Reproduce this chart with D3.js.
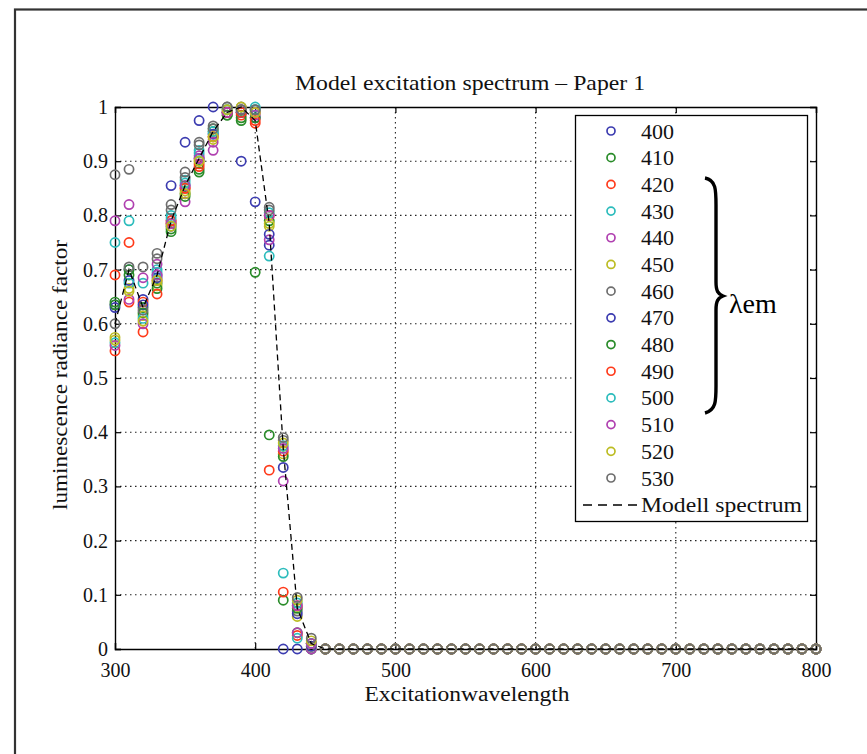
<!DOCTYPE html>
<html><head><meta charset="utf-8">
<script src="https://cdn.jsdelivr.net/npm/d3@7"></script>
<style>body{margin:0;background:#fff}</style>
</head><body>
<script>
// ---- data ----
const wavelengths = [300,310,320,330,340,350,360,370,380,390,400,410,420,430,440,450,460,470,480,490,500,510,520,530,540,550,560,570,580,590,600,610,620,630,640,650,660,670,680,690,700,710,720,730,740,750,760,770,780,790,800];
const emissionLabels = ["400","410","420","430","440","450","460","470","480","490","500","510","520","530"];
const s400 = [0.635,0.70,0.645,0.69,0.855,0.935,0.975,1.0,0.99,0.90,0.825,0.745,0,0,0, 0,0,0,0,0,0,0,0,0,0,0,0,0,0,0,0,0,0,0,0,0,0,0,0,0,0,0,0,0,0,0,0,0,0,0,0];
const s410 = [0.64,0.70,0.63,0.675,0.775,0.84,0.88,0.955,0.985,0.975,0.695,0.395,0.09,0.03,0, 0,0,0,0,0,0,0,0,0,0,0,0,0,0,0,0,0,0,0,0,0,0,0,0,0,0,0,0,0,0,0,0,0,0,0,0];
const s420 = [0.69,0.75,0.64,0.68,0.785,0.85,0.895,0.945,0.99,0.985,0.97,0.33,0.105,0.025,0, 0,0,0,0,0,0,0,0,0,0,0,0,0,0,0,0,0,0,0,0,0,0,0,0,0,0,0,0,0,0,0,0,0,0,0,0];
const s430 = [0.75,0.79,0.675,0.70,0.80,0.865,0.92,0.95,0.995,0.99,1.0,0.725,0.14,0.02,0, 0,0,0,0,0,0,0,0,0,0,0,0,0,0,0,0,0,0,0,0,0,0,0,0,0,0,0,0,0,0,0,0,0,0,0,0];
const s440 = [0.79,0.82,0.685,0.71,0.79,0.825,0.91,0.92,0.99,0.99,0.985,0.755,0.31,0.03,0, 0,0,0,0,0,0,0,0,0,0,0,0,0,0,0,0,0,0,0,0,0,0,0,0,0,0,0,0,0,0,0,0,0,0,0,0];
const s450 = [0.575,0.665,0.615,0.67,0.785,0.845,0.90,0.94,0.995,0.995,0.99,0.78,0.36,0.06,0.005, 0,0,0,0,0,0,0,0,0,0,0,0,0,0,0,0,0,0,0,0,0,0,0,0,0,0,0,0,0,0,0,0,0,0,0,0];
const s460 = [0.875,0.885,0.705,0.73,0.82,0.88,0.935,0.965,1.0,1.0,0.995,0.815,0.385,0.07,0.01, 0,0,0,0,0,0,0,0,0,0,0,0,0,0,0,0,0,0,0,0,0,0,0,0,0,0,0,0,0,0,0,0,0,0,0,0];
const s470 = [0.63,0.68,0.635,0.685,0.78,0.855,0.905,0.95,0.99,0.99,0.98,0.765,0.335,0.065,0.005, 0,0,0,0,0,0,0,0,0,0,0,0,0,0,0,0,0,0,0,0,0,0,0,0,0,0,0,0,0,0,0,0,0,0,0,0];
const s480 = [0.635,0.69,0.62,0.665,0.77,0.835,0.885,0.96,0.985,0.98,0.98,0.79,0.355,0.075,0.01, 0,0,0,0,0,0,0,0,0,0,0,0,0,0,0,0,0,0,0,0,0,0,0,0,0,0,0,0,0,0,0,0,0,0,0,0];
const s490 = [0.55,0.64,0.585,0.655,0.79,0.85,0.89,0.945,0.99,0.99,0.975,0.80,0.365,0.08,0.01, 0,0,0,0,0,0,0,0,0,0,0,0,0,0,0,0,0,0,0,0,0,0,0,0,0,0,0,0,0,0,0,0,0,0,0,0];
const s500 = [0.565,0.675,0.61,0.695,0.795,0.86,0.915,0.955,0.995,0.995,0.995,0.805,0.375,0.085,0.01, 0,0,0,0,0,0,0,0,0,0,0,0,0,0,0,0,0,0,0,0,0,0,0,0,0,0,0,0,0,0,0,0,0,0,0,0];
const s510 = [0.56,0.645,0.60,0.69,0.785,0.855,0.905,0.935,0.99,0.995,0.99,0.80,0.37,0.08,0.01, 0,0,0,0,0,0,0,0,0,0,0,0,0,0,0,0,0,0,0,0,0,0,0,0,0,0,0,0,0,0,0,0,0,0,0,0];
const s520 = [0.57,0.66,0.605,0.68,0.78,0.84,0.90,0.945,0.995,1.0,0.99,0.785,0.38,0.09,0.015, 0,0,0,0,0,0,0,0,0,0,0,0,0,0,0,0,0,0,0,0,0,0,0,0,0,0,0,0,0,0,0,0,0,0,0,0];
const s530 = [0.60,0.705,0.625,0.72,0.81,0.87,0.93,0.96,1.0,0.995,0.995,0.81,0.39,0.095,0.02, 0,0,0,0,0,0,0,0,0,0,0,0,0,0,0,0,0,0,0,0,0,0,0,0,0,0,0,0,0,0,0,0,0,0,0,0];
const modelSpectrum = [0.60,0.70,0.63,0.69,0.79,0.855,0.905,0.955,0.99,1.0,0.975,0.785,0.37,0.075,0.01, 0,0,0,0,0,0,0,0,0,0,0,0,0,0,0,0,0,0,0,0,0,0,0,0,0,0,0,0,0,0,0,0,0,0,0,0];
const xTickValues = [300,400,500,600,700,800];
const yTickValues = [0,0.1,0.2,0.3,0.4,0.5,0.6,0.7,0.8,0.9,1];
const yTickLabels = ["0","0.1","0.2","0.3","0.4","0.5","0.6","0.7","0.8","0.9","1"];
const titleText = "Model excitation spectrum \u2013 Paper 1";
const xLabelText = "Excitationwavelength";
const yLabelText = "luminescence radiance factor";
const modelLabel = "Modell spectrum";

const seriesValues = [s400,s410,s420,s430,s440,s450,s460,s470,s480,s490,s500,s510,s520,s530];
const palette = ["#3c3cb0","#2a8c2a","#ff3a1a","#2cbcbc","#b040b0","#bcbc22","#6e6e6e"];

// ---- layout ----
const W = 867, H = 754;
const L = 115, R = 816, T = 107, B = 649;
const FONT = "'Liberation Serif', 'Times New Roman', serif";

const svg = d3.select("body").append("svg").attr("width", W).attr("height", H)
  .style("font-family", FONT);

svg.append("rect").attr("x", 15).attr("y", 9.5).attr("width", 900).attr("height", 800)
  .attr("fill", "none").attr("stroke", "#333").attr("stroke-width", 2.2);

const x = d3.scaleLinear().domain([300, 800]).range([L, R]);
const y = d3.scaleLinear().domain([0, 1]).range([B, T]);

// grid
const grid = svg.append("g").attr("stroke", "#222").attr("stroke-width", 1.1).attr("stroke-dasharray", "1.5,3.5");
grid.selectAll("line.gx").data(xTickValues.filter(v => v > 300 && v < 800)).join("line")
  .attr("x1", d => x(d)).attr("x2", d => x(d)).attr("y1", T).attr("y2", B);
grid.selectAll("line.gy").data(yTickValues.filter(v => v > 0 && v < 1)).join("line")
  .attr("x1", L).attr("x2", R).attr("y1", d => y(d)).attr("y2", d => y(d));

// axes (inward ticks on all sides)
const tickLen = 6;
const axB = svg.append("g").attr("transform", `translate(0,${B})`)
  .call(d3.axisBottom(x).tickValues(xTickValues).tickSize(-tickLen).tickPadding(14).tickFormat(d3.format("d")));
const axT = svg.append("g").attr("transform", `translate(0,${T})`)
  .call(d3.axisTop(x).tickValues(xTickValues).tickSize(-tickLen).tickFormat(""));
const axL = svg.append("g").attr("transform", `translate(${L},0)`)
  .call(d3.axisLeft(y).tickValues(yTickValues).tickSize(-tickLen).tickPadding(7).tickFormat((d, i) => yTickLabels[i]));
const axR = svg.append("g").attr("transform", `translate(${R},0)`)
  .call(d3.axisRight(y).tickValues(yTickValues).tickSize(-tickLen).tickFormat(""));
[axB, axT, axL, axR].forEach(a => {
  a.select(".domain").attr("stroke", "#000").attr("stroke-width", 1.4);
  a.selectAll(".tick line").attr("stroke", "#000").attr("stroke-width", 1.2);
  a.selectAll("text").attr("font-family", FONT).attr("font-size", 20).attr("fill", "#111");
});

// points
seriesValues.forEach((vals, si) => {
  svg.append("g").selectAll("circle").data(vals).join("circle")
    .attr("cx", (d, i) => x(wavelengths[i])).attr("cy", d => y(d))
    .attr("r", 4.6).attr("fill", "none")
    .attr("stroke", palette[si % palette.length]).attr("stroke-width", 1.7);
});

// model line
svg.append("path").datum(modelSpectrum)
  .attr("d", d3.line().x((d, i) => x(wavelengths[i])).y(d => y(d)))
  .attr("fill", "none").attr("stroke", "#000").attr("stroke-width", 1.3).attr("stroke-dasharray", "6,4");

// titles
svg.append("text").attr("x", 470).attr("y", 90).attr("text-anchor", "middle")
  .attr("font-size", 21).attr("textLength", 350).attr("lengthAdjust", "spacingAndGlyphs")
  .attr("fill", "#111").text(titleText);
svg.append("text").attr("x", 467).attr("y", 701).attr("text-anchor", "middle")
  .attr("font-size", 20).attr("textLength", 205).attr("lengthAdjust", "spacingAndGlyphs")
  .attr("fill", "#111").text(xLabelText);
svg.append("text").attr("transform", `translate(67,${375}) rotate(-90)`).attr("text-anchor", "middle")
  .attr("font-size", 21).attr("textLength", 270).attr("lengthAdjust", "spacingAndGlyphs")
  .attr("fill", "#111").text(yLabelText);

// legend
const lg = svg.append("g");
lg.append("rect").attr("x", 575.5).attr("y", 115.5).attr("width", 232).attr("height", 406)
  .attr("fill", "#fff").attr("stroke", "#000").attr("stroke-width", 1.3);
const rowY = d3.scaleLinear().domain([0, 13]).range([131, 478]);
emissionLabels.forEach((lab, i) => {
  lg.append("circle").attr("cx", 611).attr("cy", rowY(i)).attr("r", 4)
    .attr("fill", "none").attr("stroke", palette[i % palette.length]).attr("stroke-width", 1.7);
  lg.append("text").attr("x", 641).attr("y", rowY(i) + 7.5).attr("font-size", 22).attr("fill", "#111").text(lab);
});
lg.append("line").attr("x1", 583).attr("x2", 638).attr("y1", 505).attr("y2", 505)
  .attr("stroke", "#000").attr("stroke-width", 1.3).attr("stroke-dasharray", "9,6");
lg.append("text").attr("x", 641).attr("y", 512).attr("font-size", 22)
  .attr("textLength", 161).attr("lengthAdjust", "spacingAndGlyphs").attr("fill", "#111").text(modelLabel);

// brace + λem
lg.append("path")
  .attr("d", "M705,178 C716,180 716,190 716,205 L716,282 C716,291 718,294 723,296 C718,298 716,301 716,310 L716,386 C716,401 716,410 705,413")
  .attr("fill", "none").attr("stroke", "#000").attr("stroke-width", 3.4);
lg.append("text").attr("x", 729).attr("y", 313).attr("font-size", 28).attr("fill", "#000").text("\u03bbem");
</script>
</body></html>
